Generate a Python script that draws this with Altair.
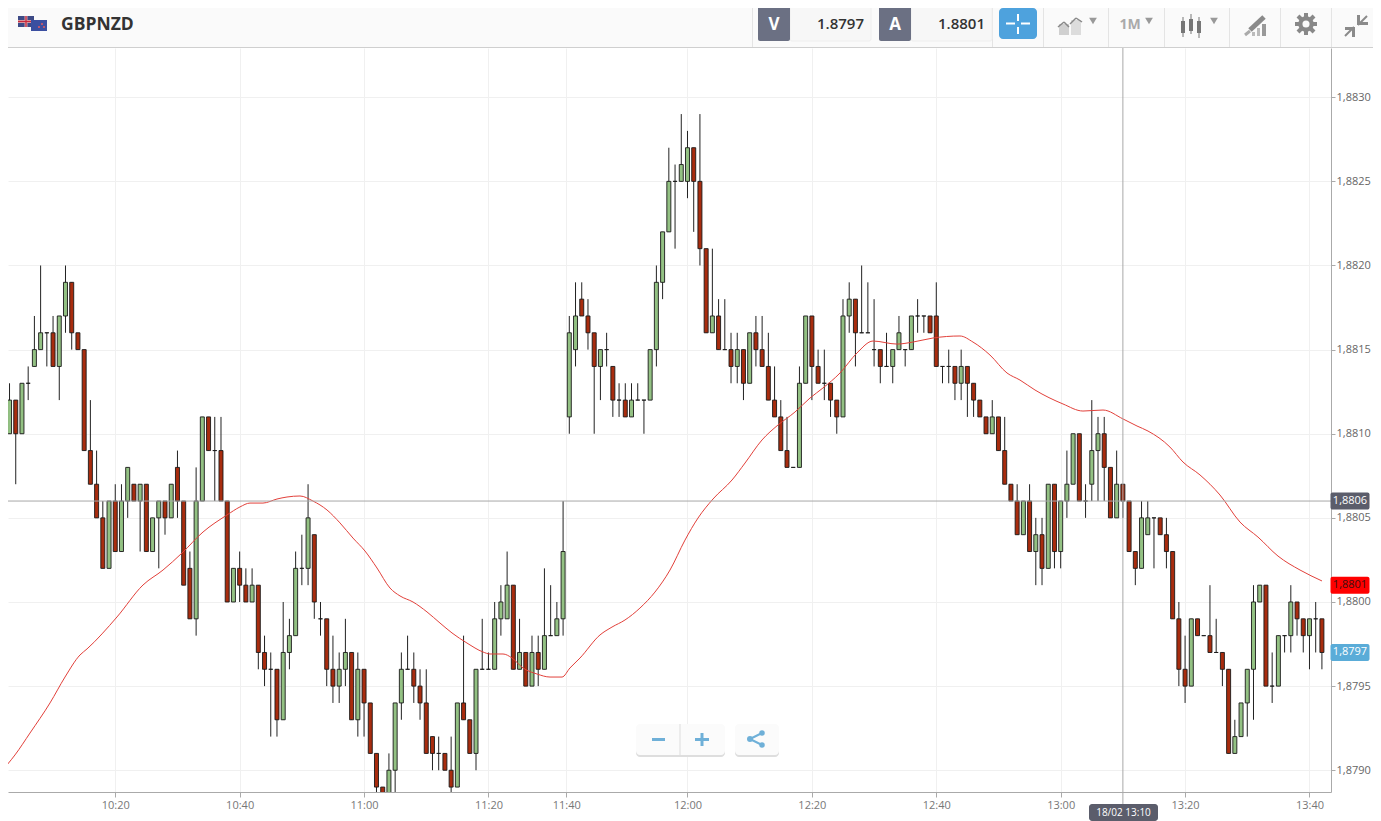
import altair as alt
import pandas as pd

# Prices are in pips (0.0001) relative to 1.8800; one candle per traded minute.
opens = [11,10,12,10,13,14,15,16,16,14, 17,19,16,15,9,7,5,2,6,3, 6,7,6,7,3,5,6,5,8,6,
         2,-1,6,11,9,9,6,0,2,1, 0,1,-3,-4,-4,-7,-3,-2,2,2, 4,-1,-1,-4,-5,-4,-3,-7,-4,-6,
         -9,-11,-12,-10,-6,-4,-4,-5,-6,-8, -9,-9,-10,-11,-6,-7,-9,-4,-4,-4, -1,-1,1,-4,-3,-5,-3,-4,-2,-2,
         -1, 11,15,18,17,16,14,15,14,12,
         12,11,12,12,12,15,19,22,25,25, 25,27,25,21,16,17,15,15,14,15, 13,16,15,14,12,11,9,8,8,13,
         17,14,13,13,12,11,17,18,16,16, 15,15,14,14,15,15,15,17,17,17, 17,14,14,14,13,14,13,12,11,10,
         11,9,7,6,4,6,3,4,2,7, 3,6,7,10,6,7,9,10,8,5, 7,6,3,2,4,5,5,4,3,-1,
         -4,-5,-1,-2,-2,-3,-3,-4,-9,-8, -6,-4,0,1,-5,-5,-2,-2,0,-1,-2,-1,-1]
highs = [12,13,12,13,14,17,20,16,17,17, 20,19,16,15,12,9,6,6,7,7, 8,7,7,7,5,6,6,7,9,6,
         3,8,11,11,11,11,6,2,3,2, 2,1,-2,-3,-4,0,-1,3,4,7, 4,0,-1,-2,-3,-1,-3,-3,-4,-6,
         -9,-11,-9,-6,-3,-2,-3,-4,-4,-8, -8,-9,-8,-6,-2,-7,-4,-1,-3,0, 1,3,1,-1,-3,-2,-2,2,1,0,
         6, 17,19,19,18,16,15,16,14,13,
         13,13,13,12,15,20,22,27,26,29, 28,27,29,21,21,18,18,16,16,15, 16,17,17,16,14,12,11,8,14,17,
         17,15,15,13,12,18,19,18,20,19, 18,15,16,15,17,15,17,18,17,17, 19,14,15,14,15,14,13,12,11,12,
         11,11,7,7,6,7,5,5,7,7, 6,9,10,10,7,12,11,11,8,9, 7,6,3,6,6,5,5,5,3,0,
         -2,-1,-1,-2,1,-1,-3,-4,-7,-6, -4,1,1,1,-3,-2,-2,1,0,-1,-1,0,-1]
lows = [8,10,7,10,12,14,15,14,14,12, 16,15,15,9,7,5,2,2,3,3, 5,6,3,3,3,2,4,5,5,1,
        -1,-2,6,9,6,6,0,0,0,0, 0,-4,-5,-8,-8,-7,-4,-2,1,1, -1,-2,-5,-6,-6,-5,-7,-8,-8,-9,
        -12,-12,-12,-12,-7,-4,-6,-7,-9,-10, -10,-10,-12,-11,-7,-9,-10,-4,-4,-4, -2,-1,-4,-4,-5,-5,-5,-4,-2,-2,
        -2, 10,14,17,15,10,12,14,11,11,
        11,11,12,10,12,14,18,22,21,25, 24,22,20,16,16,15,15,13,13,12, 13,14,14,12,11,9,8,8,8,13,
        12,13,12,11,10,11,16,14,16,16, 14,13,14,13,15,14,15,16,16,16, 14,13,13,12,12,11,11,11,10,10,
        9,7,6,4,4,3,1,1,2,2, 2,5,7,6,5,6,6,6,5,5, 5,3,1,2,4,2,4,2,-1,-5,
        -6,-5,-2,-2,-3,-3,-5,-9,-9,-8, -8,-7,0,-5,-6,-5,-3,-3,-2,-3,-4,-3,-4]
closes = [10,12,10,13,13,15,16,16,14,17, 19,16,15,9,7,5,2,6,3,6, 8,6,7,3,5,6,5,7,6,1,
          -1,6,11,9,9,6,0,2,1,0, 1,-3,-4,-4,-7,-3,-2,2,2,5, 0,-1,-4,-5,-4,-3,-7,-4,-6,-9,
          -11,-12,-10,-6,-4,-4,-5,-6,-9,-9, -9,-10,-11,-6,-7,-9,-4,-4,-4,-1, 0,1,-4,-3,-5,-3,-4,-2,-2,-1,
          3, 16,17,17,16,14,15,15,12,12,
          11,12,12,12,15,19,22,25,25,26, 27,25,21,16,17,15,15,14,15,13, 16,15,14,12,11,9,8,8,13,17,
          14,13,13,12,11,17,18,16,16,16, 15,14,14,15,16,15,17,17,17,16, 14,14,14,13,14,13,12,11,10,11,
          9,7,6,4,6,3,4,2,7,3, 6,7,10,6,6,9,10,8,5,7, 6,3,2,5,5,5,4,3,-1,-4,
          -5,-1,-2,-2,-3,-3,-4,-9,-8,-6, -4,0,1,-5,-5,-2,-2,0,-1,-2,-1,-1,-3]

ma_index = [-0.53,1.88,4.29,7.51,9.92,12.33,13.46,18.28,22.46,25.68,28.73,32.11,35.96,38.05,39.66,41.75,44.0,45.61,47.7,
            49.79,52.04,54.13,56.22,58.15,60.08,62.17,63.78,65.87,68.12,70.21,72.14,74.55,77.12,78.25,80.34,81.79,83.55,
            85.81,87.9,89.83,91.11,92.72,95.93,97.86,99.95,102.36,104.77,107.19,109.6,111.69,114.1,117.16,119.25,121.98,
            124.55,127.28,129.69,131.78,134.52,137.25,139.82,143.68,146.25,149.47,153.81,155.9,158.63,161.37,163.46,165.87,
            170.37,173.58,176.8,180.02,182.27,184.04,187.57,189.66,192.4,195.61,198.83,201.72,204.94,208.48,212.01]
ma_pips = [-10.16,-9.09,-7.79,-6.0,-4.46,-3.15,-2.79,-0.89,1.01,1.9,2.91,4.16,5.17,5.65,5.88,5.88,6.12,6.24,6.3,
           6.0,5.47,4.7,3.8,3.03,2.02,0.83,0.36,0.0,-0.59,-1.25,-1.84,-2.44,-2.97,-3.09,-3.09,-3.33,-3.92,
           -4.28,-4.46,-4.46,-3.92,-3.33,-1.96,-1.49,-1.07,-0.36,0.59,1.9,3.68,4.99,6.12,7.25,8.26,9.63,
           10.52,11.29,12.12,12.72,13.61,14.8,15.51,15.33,15.45,15.69,15.81,15.45,14.68,13.61,13.19,12.6,
           11.77,11.35,11.41,10.88,10.46,10.16,9.21,8.32,7.55,6.36,4.75,3.86,2.73,1.9,1.25]

time_ticks = [18, 38, 58, 78, 90.5, 110, 130, 150, 170, 190, 210]
time_labels = ["10:20", "10:40", "11:00", "11:20", "11:40", "12:00", "12:20", "12:40", "13:00", "13:20", "13:40"]
price_ticks = [1.879, 1.8795, 1.88, 1.8805, 1.881, 1.8815, 1.882, 1.8825, 1.883]

assert len(opens) == len(highs) == len(lows) == len(closes) == 213
assert len(ma_index) == len(ma_pips)

def price(p):
    return round(1.88 + p / 10000, 6)

candles = pd.DataFrame({
    "i": range(213),
    "open": [price(v) for v in opens],
    "high": [price(v) for v in highs],
    "low": [price(v) for v in lows],
    "close": [price(v) for v in closes],
})
candles["up"] = ["up" if c > o else "down" for o, c in zip(opens, closes)]
ma = pd.DataFrame({"i": ma_index, "ma": [price(v) for v in ma_pips]})

FONT = "Open Sans"
x_scale = alt.Scale(domain=[0.756, 213.46], nice=False, zero=False, padding=0)
y_scale = alt.Scale(domain=[1.8788707, 1.8832927], nice=False, zero=False)

label_expr_x = "%s[indexof(%s, datum.value)]" % (str(time_labels), str(time_ticks))
x_axis = alt.Axis(values=time_ticks, labelExpr=label_expr_x, title=None, grid=True, gridColor="#f0f0f0",
                  domainColor="#aaaaaa", tickColor="#aaaaaa", tickSize=5, labelColor="#777777", labelFont=FONT,
                  labelFontSize=11, labelPadding=2, labelOverlap=False, labelFlush=False)
y_axis = alt.Axis(values=price_ticks, orient="right", title=None, grid=True, gridColor="#f0f0f0",
                  labelExpr="replace(format(datum.value, '.4f'), '.', ',')",
                  domainColor="#aaaaaa", tickColor="#aaaaaa", tickSize=4, labelColor="#666666", labelFont=FONT,
                  labelFontSize=11, labelPadding=1, labelOverlap=False, labelFlush=False)

wicks = alt.Chart(candles).mark_rule(color="#222222", strokeWidth=1, clip=True).encode(
    x=alt.X("i:Q", scale=x_scale, axis=x_axis),
    y=alt.Y("low:Q", scale=y_scale, axis=y_axis),
    y2="high:Q",
)
bodies = alt.Chart(candles).mark_bar(size=4, stroke="#1a1a1a", strokeWidth=0.9, clip=True, orient="vertical").encode(
    x=alt.X("i:Q", scale=x_scale),
    y=alt.Y("open:Q", scale=y_scale),
    y2="close:Q",
    fill=alt.Fill("up:N", scale=alt.Scale(domain=["up", "down"], range=["#93c183", "#a82c0e"]), legend=None),
)
ma_line = alt.Chart(ma).mark_line(color="#e2403a", strokeWidth=1, interpolate="monotone", clip=True).encode(
    x=alt.X("i:Q", scale=x_scale),
    y=alt.Y("ma:Q", scale=y_scale),
)

one = pd.DataFrame({"a": [0]})

def box(x1, y1, x2, y2, fill, radius=0, stroke=None):
    kw = {"stroke": stroke, "strokeWidth": 1} if stroke else {}
    return alt.Chart(one).mark_rect(fill=fill, cornerRadius=radius, **kw).encode(
        x=alt.value(x1 - 8), x2=alt.value(x2 - 8), y=alt.value(y1 - 48), y2=alt.value(y2 - 48))

def line(x1, y1, x2, y2, color, width=1):
    return alt.Chart(one).mark_rule(color=color, strokeWidth=width).encode(
        x=alt.value(x1 - 8), x2=alt.value(x2 - 8), y=alt.value(y1 - 48), y2=alt.value(y2 - 48))

def label(x, y, s, color="#333333", size=11, weight="normal", align="center", font=FONT):
    return alt.Chart(one).mark_text(text=s, color=color, fontSize=size, fontWeight=weight, align=align,
                                    baseline="middle", font=font).encode(
        x=alt.value(x - 8), y=alt.value(y - 48))

def dot(x, y, color, size=40, shape="circle"):
    return alt.Chart(one).mark_point(filled=True, color=color, size=size, shape=shape, opacity=1).encode(
        x=alt.value(x - 8), y=alt.value(y - 48))

# crosshair
cross_h = alt.Chart(one).mark_rule(color="#a8a8a8", strokeWidth=1).encode(y=alt.Y(datum=1.8806, scale=y_scale))
cross_v = alt.Chart(one).mark_rule(color="#a8a8a8", strokeWidth=1).encode(
    x=alt.X(datum=180, scale=x_scale), y=alt.value(0), y2=alt.value(756))

ui = [
    # header band
    box(0, 0, 1381, 47, "#fafafa"),
    line(0, 47.5, 1381, 47.5, "#cfcfcf"),
]
for sx in [752, 992, 1043, 1108, 1164, 1229, 1280, 1331]:
    ui.append(line(sx + 0.5, 8, sx + 0.5, 47, "#e4e4e4"))

# flags and symbol
ui += [
    box(18, 16, 34, 27, "#3d4a86"),
    line(18, 21.5, 34, 21.5, "#d9a0a8", 3),
    line(26, 16, 26, 27, "#d9a0a8", 3),
    line(18, 21.5, 34, 21.5, "#c8283c", 1.2),
    line(26, 16, 26, 27, "#c8283c", 1.2),
    box(31, 20, 47, 31, "#3b4fa0"),
    dot(42, 24, "#d85a66", 5), dot(39, 27, "#d85a66", 5), dot(44, 27, "#d85a66", 5),
    label(61, 25, "GBPNZD", "#333333", 17.5, "bold", "left"),
]
# bid / ask
ui += [
    box(790, 6, 871, 41, "#f7f7f7", 2, "#eeeeee"),
    box(758, 6, 790, 41, "#6b7083", 2),
    label(774, 25, "V", "#ffffff", 17, "bold"),
    label(864, 24, "1.8797", "#333333", 15, 600, "right"),
    box(911, 6, 992, 41, "#f7f7f7", 2, "#eeeeee"),
    box(879, 6, 911, 41, "#6b7083", 2),
    label(895, 25, "A", "#ffffff", 17, "bold"),
    label(985, 24, "1.8801", "#333333", 15, 600, "right"),
    box(999, 8, 1037, 39, "#4ea2dd", 4),
    line(1006, 23.5, 1015, 23.5, "#ffffff", 2),
    line(1021, 23.5, 1030, 23.5, "#ffffff", 2),
    line(1018, 14, 1018, 21, "#ffffff", 2),
    line(1018, 27, 1018, 34, "#ffffff", 2),
]
# chart-type icon
ui += [
    box(1059, 24, 1069, 35, "#d0d0d0"), box(1071, 20, 1081, 35, "#dcdcdc"),
    line(1058, 27, 1064, 22, "#888888", 1.5), line(1064, 22, 1069, 27, "#888888", 1.5),
    line(1070, 24, 1076, 18, "#888888", 1.5), line(1076, 18, 1082, 22, "#888888", 1.5),
    dot(1093, 21, "#999999", 60, "triangle-down"),
    label(1130, 25, "1M", "#aaaaaa", 14, "bold"),
    dot(1149, 21, "#999999", 60, "triangle-down"),
]
# candle icon
for cx, y1, y2, by1, by2 in [(1183, 17, 37, 21, 33), (1191, 14, 34, 19, 31), (1199, 17, 38, 21, 33)]:
    ui.append(line(cx, y1, cx, y2, "#777777", 1))
    ui.append(box(cx - 2, by1, cx + 2, by2, "#777777"))
ui.append(dot(1214, 21, "#999999", 60, "triangle-down"))
# drawing icon
ui += [
    line(1250, 30, 1264, 17, "#8a8a8a", 5),
    line(1245, 35, 1250, 31, "#aaaaaa", 3),
    box(1252, 32, 1255, 36, "#bbbbbb"), box(1257, 28, 1260, 36, "#bbbbbb"), box(1262, 24, 1266, 36, "#999999"),
    # gear icon
    line(1295, 24, 1317, 24, "#888888", 4), line(1306, 13, 1306, 35, "#888888", 4),
    line(1298, 16, 1314, 32, "#888888", 4), line(1298, 32, 1314, 16, "#888888", 4),
    dot(1306, 24, "#888888", 240), dot(1306, 24, "#fafafa", 50),
    # compress icon
    line(1358, 25, 1367, 16, "#8a8a8a", 2), box(1357, 15, 1360, 25, "#8a8a8a"), box(1357, 22, 1368, 25, "#8a8a8a"),
    line(1345, 36, 1354, 27, "#8a8a8a", 2), box(1352, 27, 1355, 37, "#8a8a8a"), box(1345, 27, 1355, 30, "#8a8a8a"),
]
# zoom / share widgets
ui += [
    box(636, 726, 725, 757, "#dedede", 4),
    box(636, 724, 725, 755, "#fbfbfb", 4),
    line(680, 724, 680, 755, "#dddddd"),
    box(652, 738, 665, 741, "#6fb0d8"),
    box(695, 738, 709, 741, "#6fb0d8"),
    box(700.5, 733, 703.5, 746, "#6fb0d8"),
    box(735, 726, 779, 757, "#dedede", 4),
    box(735, 724, 779, 755, "#fbfbfb", 4),
    line(750, 739, 762, 733, "#6fb0d8", 2),
    line(750, 739, 762, 745, "#6fb0d8", 2),
    dot(750, 739, "#6fb0d8", 36), dot(762, 733, "#6fb0d8", 30), dot(762, 745, "#6fb0d8", 30),
]
# crosshair time tag and price tags
def tag(p, fill, s, color):
    return [
        alt.Chart(one).mark_rect(fill=fill, cornerRadius=2, height=17, width=39).encode(
            x=alt.value(1350 - 8), y=alt.Y(datum=p, scale=y_scale)),
        alt.Chart(one).mark_text(text=s, color=color, fontSize=11, font=FONT, align="center", baseline="middle").encode(
            x=alt.value(1350 - 8), y=alt.Y(datum=p, scale=y_scale)),
    ]

ui += [box(1089, 804, 1158, 821, "#5b5d6b", 3), label(1123.5, 813, "18/02 13:10", "#ffffff", 10)]
ui += tag(1.8806, "#5b5d6b", "1,8806", "#ffffff")
ui += tag(1.8801, "#ff0000", "1,8801", "#3a1010")
ui += tag(1.8797, "#5aacd8", "1,8797", "#ffffff")

chart = alt.layer(wicks, bodies, ma_line, cross_h, cross_v, *ui).properties(
    width=1323,
    height=744,
    padding={"left": 0, "top": 40, "right": 42, "bottom": 29},
    autosize=alt.AutoSizeParams(type="none"),
    background="#ffffff",
).configure_view(strokeWidth=0)

chart.save("out.html", embed_options={"renderer": "svg", "actions": False})
